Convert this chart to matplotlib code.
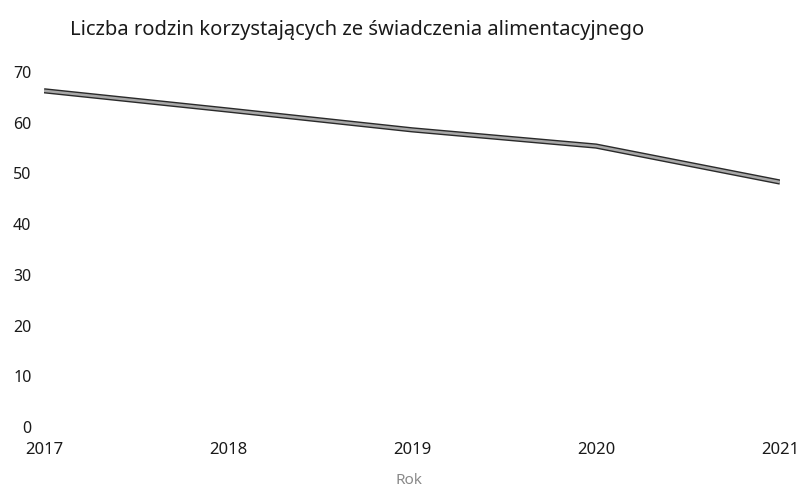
import numpy as np
import matplotlib.pyplot as plt

plt.rcParams['font.family'] = ['Noto Sans', 'DejaVu Sans']

lata = np.array([2017, 2018, 2019, 2020, 2021])
rodziny = np.array([66.3, 62.5, 58.6, 55.4, 48.3])
yticks = [0, 10, 20, 30, 40, 50, 60, 70]

fig = plt.figure(figsize=(8.01, 4.95), dpi=100)
ax = fig.add_axes([0.0549, 0.1374, 0.9189, 0.7171])

# gruba linia: ciemny obrys + jasniejsze wnetrze
ax.plot(lata, rodziny, color='#2a2a2a', lw=3.8, solid_capstyle='butt', zorder=2)
ax.plot(lata, rodziny, color='#a8a8a8', lw=1.8, solid_capstyle='butt', zorder=3)

ax.set_xlim(2017, 2021)
ax.set_ylim(0, 70)
ax.set_xticks(lata)
ax.set_xticklabels([str(r) for r in lata], fontsize=12, color='#1a1a1a')
ax.set_yticks(yticks)
ax.set_yticklabels([str(v) for v in yticks], fontsize=11.5, color='#1a1a1a')
ax.tick_params(axis='y', length=0, pad=9)
ax.tick_params(axis='x', length=0, pad=11)
for s in ax.spines.values():
    s.set_visible(False)
ax.axhline(0, color='#bbbbbb', lw=0.6, ls=(0, (1, 14)), zorder=1)

fig.text(0.087, 0.939, 'Liczba rodzin korzystających ze świadczenia alimentacyjnego',
         fontsize=14.5, color='#1a1a1a', ha='left', va='center')
fig.text(0.51, 0.03, 'Rok', fontsize=11, color='#888888', ha='center', va='center')

fig.savefig('out.png', dpi=100)
